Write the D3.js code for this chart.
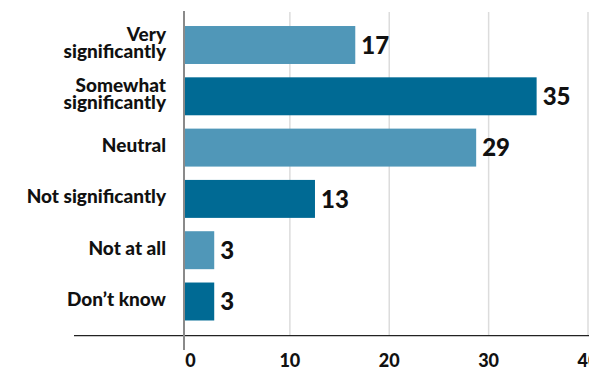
<!DOCTYPE html>
<html>
<head>
<meta charset="utf-8">
<script src="https://cdn.jsdelivr.net/npm/d3@7"></script>
<style>
  html, body { margin: 0; padding: 0; background: #fff; }
  svg { display: block; }
  text { font-family: Lato, "Noto Sans", sans-serif; fill: #111; }
</style>
</head>
<body>
<svg id="chart" width="589" height="369"></svg>
<script>
const categories = [
  ["Very", "significantly"],
  ["Somewhat", "significantly"],
  ["Neutral"],
  ["Not significantly"],
  ["Not at all"],
  ["Don\u2019t know"]
];
const values = [17, 35, 29, 13, 3, 3];
const tickValues = [0, 10, 20, 30, 40];
const colors = ["#5097b8", "#006a94"];

const svg = d3.select("#chart");
const W = 589, H = 369;

const keys = categories.map(c => c.join(" "));
const x = d3.scaleLinear().domain([0, 40]).range([184, 587]);
const xAxisScale = d3.scaleLinear().domain([0, 40]).range([190.5, 588]);
const y = d3.scaleBand().domain(keys).range([19.35, 327.15])
  .paddingInner(0.26).paddingOuter(0.13);

// gridlines
svg.append("g").selectAll("line")
  .data(tickValues.filter(t => t > 0))
  .join("line")
  .attr("x1", d => xAxisScale(d)).attr("x2", d => xAxisScale(d))
  .attr("y1", 12).attr("y2", 336)
  .attr("stroke", "#dcdcdc").attr("stroke-width", 1.5);

// bars
svg.append("g").selectAll("rect")
  .data(values)
  .join("rect")
  .attr("x", x(0))
  .attr("y", (d, i) => y(keys[i]))
  .attr("width", d => x(d) - x(0))
  .attr("height", y.bandwidth())
  .attr("fill", (d, i) => colors[i % 2]);

// value labels
svg.append("g").selectAll("text")
  .data(values)
  .join("text")
  .attr("x", d => x(d) + 6)
  .attr("y", (d, i) => y(keys[i]) + y.bandwidth() / 2)
  .attr("dy", "0.36em")
  .attr("font-size", 24)
  .attr("font-weight", 900)
  .text(d => d);

// category labels
const lab = svg.append("g").selectAll("text")
  .data(categories)
  .join("text")
  .attr("text-anchor", "end")
  .attr("font-size", 19)
  .attr("font-weight", 900)
  .attr("x", 166)
  .attr("y", (d, i) => y(keys[i]) + y.bandwidth() / 2);
lab.each(function(lines) {
  const t = d3.select(this);
  const lh = 17;
  const start = -(lines.length - 1) * lh / 2;
  lines.forEach((l, j) => {
    t.append("tspan").attr("x", 166)
      .attr("dy", j === 0 ? (start + 4.5) : lh)
      .text(l);
  });
});

// horizontal axis line
svg.append("line")
  .attr("x1", 74).attr("x2", W)
  .attr("y1", 335.7).attr("y2", 335.7)
  .attr("stroke", "#222").attr("stroke-width", 1.2);

// vertical zero line
svg.append("line")
  .attr("x1", 184).attr("x2", 184)
  .attr("y1", 11).attr("y2", 350)
  .attr("stroke", "#8a8a8a").attr("stroke-width", 2);

// tick labels
svg.append("g").selectAll("text")
  .data(tickValues)
  .join("text")
  .attr("x", d => xAxisScale(d))
  .attr("y", 367)
  .attr("text-anchor", "middle")
  .attr("font-size", 18)
  .attr("font-weight", 900)
  .text(d => d);
</script>
</body>
</html>
